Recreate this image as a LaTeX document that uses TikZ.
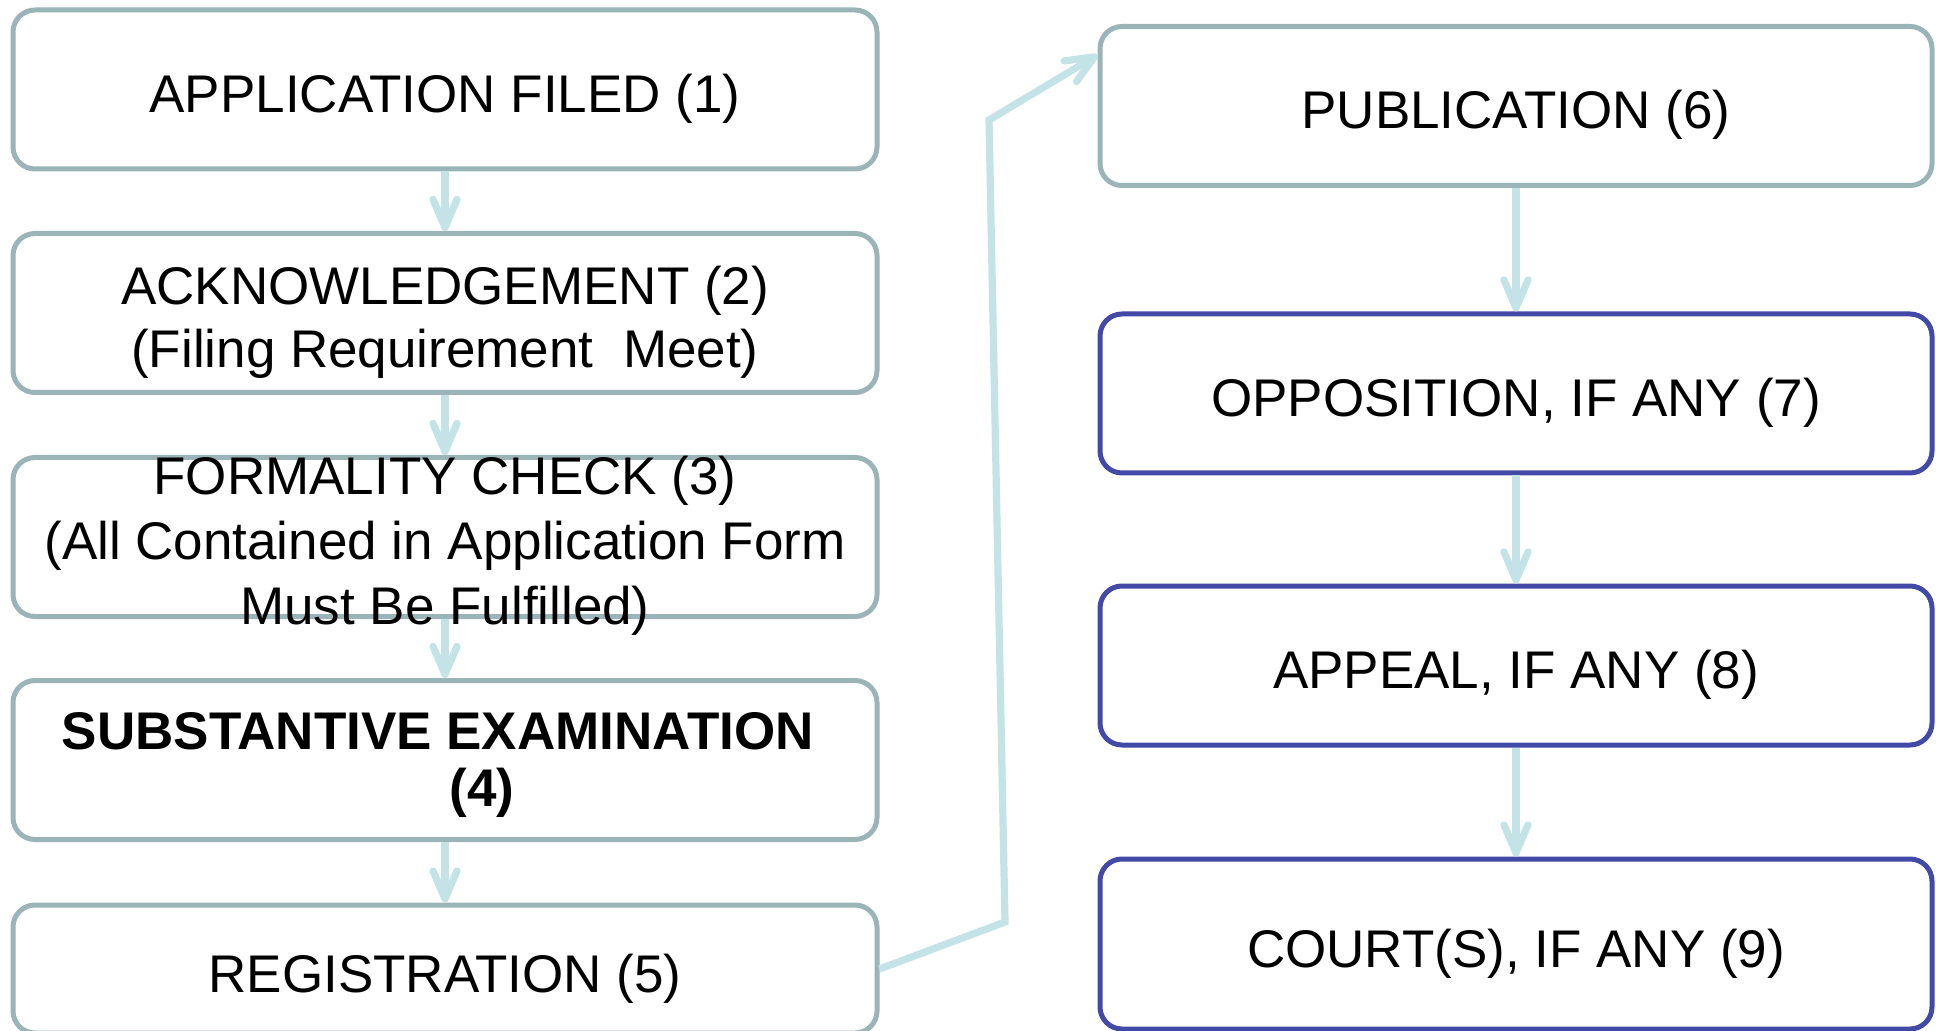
\documentclass[tikz,border=0pt]{standalone}
\usepackage{fontspec}
\setmainfont{Liberation Sans}
\usetikzlibrary{arrows.meta}

\definecolor{stepgray}{HTML}{9AB4B7}
\definecolor{stepblue}{HTML}{4249A6}
\definecolor{flowcyan}{HTML}{C3E3E7}

\tikzset{
  stepbox/.style={draw=stepgray,line width=2.5pt,rounded corners=11pt,
    minimum width=432pt,minimum height=79.5pt,inner sep=0pt,align=center,
    font=\fontsize{26.5}{32.5}\selectfont},
  oneline/.style={text height=26pt,text depth=3pt},
  steptext/.style={inner sep=0pt,align=center},
  rightbox/.style={stepbox,draw=stepblue,minimum width=416pt},
  flow/.style={->,draw=flowcyan,line width=3.6pt}
}

\begin{document}
\begin{tikzpicture}[x=0.5pt,y=-0.5pt,>={Straight Barb[length=14pt,width=12pt,round]}]

\useasboundingbox (0,0) rectangle (1936,1031);

\node [stepbox,oneline] at (445,89.5) (filed) {APPLICATION FILED (1)};
\node [stepbox] at (445,313) (ack) {};
\node [stepbox] at (445,537) (formal) {};
\node [stepbox] at (445,760) (subst) {};
\node [stepbox,oneline,minimum height=64pt] at (445,969) (reg) {REGISTRATION (5)};

\node [stepbox,oneline,minimum width=416pt] at (1516,106) (pub) {PUBLICATION (6)};
\node [rightbox,oneline] at (1516,393.5) (oppo) {OPPOSITION, IF ANY (7)};
\node [rightbox,oneline] at (1516,665.5) (appeal) {APPEAL, IF ANY (8)};
\node [rightbox,oneline,minimum height=85pt] at (1516,944) (court) {COURT(S), IF ANY (9)};

\draw [flow] (filed) -- (ack);
\draw [flow] (ack) -- (formal);
\draw [flow] (formal) -- (subst);
\draw [flow] (subst) -- (reg);

\draw [flow] (pub) -- (oppo);
\draw [flow] (oppo) -- (appeal);
\draw [flow] (appeal) -- (court);

\coordinate (kneelow) at (1005,922);
\coordinate (kneehigh) at (989,120);
\draw [flow] (reg.east) -- (kneelow) -- (kneehigh) -- ([yshift=-15.5pt]pub.north west);

\node [steptext,font=\fontsize{26.5}{31.5}\selectfont] at ([yshift=-4.8pt]ack.center) (acktext) {ACKNOWLEDGEMENT (2)\\(Filing Requirement\ \ Meet)};
\node [steptext,font=\fontsize{26.5}{32.5}\selectfont] at ([yshift=-4.4pt]formal.center) (formaltext) {FORMALITY CHECK (3)\\(All Contained in Application Form\\Must Be Fulfilled)};
\node [steptext,font=\fontsize{26.5}{28.3}\selectfont\bfseries] at ([yshift=-2.5pt]subst.center) (substtext) {SUBSTANTIVE EXAMINATION\rule{7.3pt}{0pt}\\\rule{37pt}{0pt}(4)};

\end{tikzpicture}
\end{document}
